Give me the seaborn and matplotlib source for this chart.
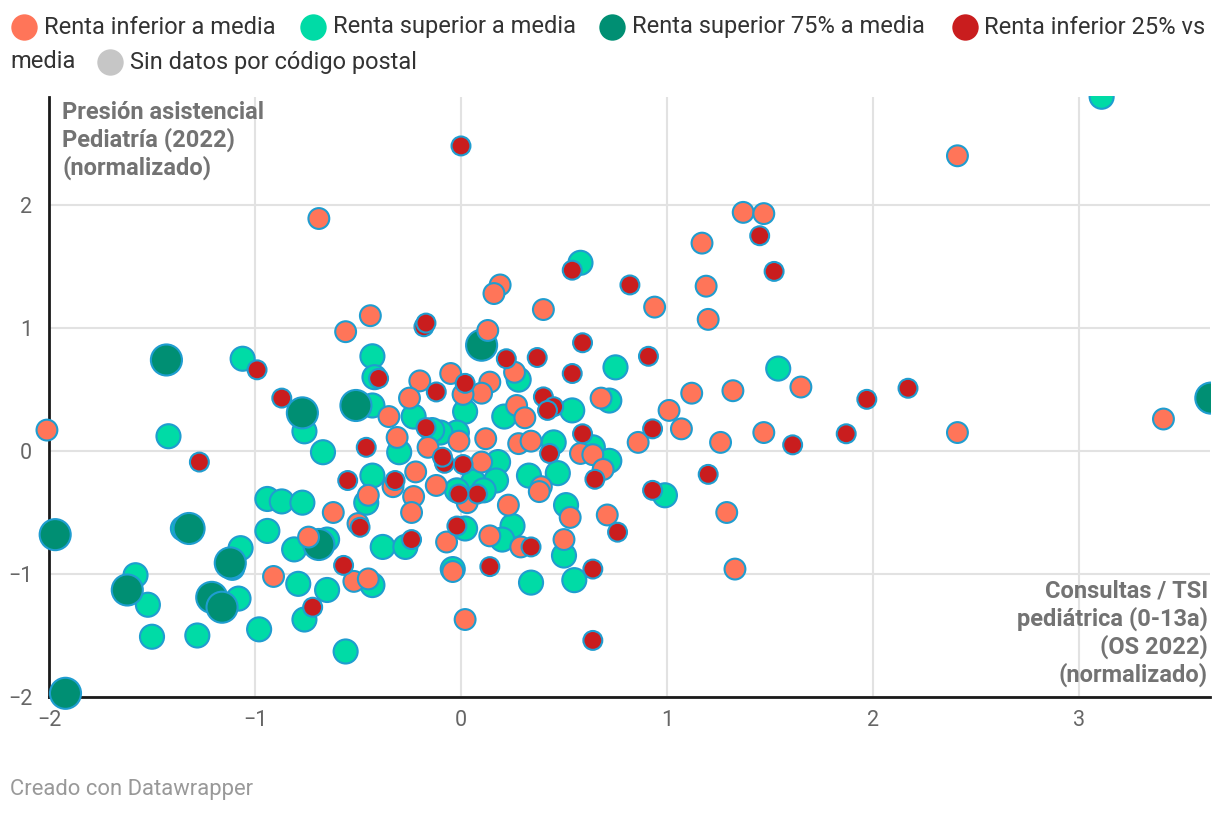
import pandas as pd
import matplotlib
matplotlib.use("Agg")
import matplotlib.pyplot as plt
import seaborn as sns
from matplotlib.lines import Line2D
from matplotlib.transforms import Bbox, TransformedBbox

# Valores (normalizados)
inferior_x = [-2.01, -0.69, 2.41, 1.37, 1.47, 1.17, 1.19, 1.20, 0.19, 0.16,
              0.40, 0.94, 0.13, -0.05, 0.14, 0.10, 0.01, 0.26, 0.27, 0.31,
              0.68, 1.12, 1.32, 1.65, 1.01, 1.07, 0.86, 1.26, 1.47, -0.01,
              0.12, 0.28, 0.34, 0.10, 0.58, 0.64, 0.69, 0.39, 2.41, 3.41,
              0.23, 0.53, 0.71, 1.29, 0.14, 0.29, 0.50, -0.07, -0.04, 1.33,
              0.02, 0.03, 0.38, -0.62, -0.45, -0.23, -0.24, -0.50, -0.74, -0.91,
              -0.52, -0.45, -0.44, -0.56, -0.20, -0.25, -0.35, -0.31, -0.16, -0.22,
              -0.12, -0.33]
inferior_y = [0.17, 1.89, 2.40, 1.94, 1.93, 1.69, 1.34, 1.07, 1.35, 1.28,
              1.15, 1.17, 0.98, 0.63, 0.56, 0.47, 0.46, 0.64, 0.37, 0.27,
              0.43, 0.47, 0.49, 0.52, 0.33, 0.18, 0.07, 0.07, 0.15, 0.08,
              0.10, 0.06, 0.08, -0.09, -0.02, -0.03, -0.15, -0.29, 0.15, 0.26,
              -0.44, -0.54, -0.52, -0.50, -0.69, -0.78, -0.72, -0.74, -0.98, -0.96,
              -1.37, -0.42, -0.33, -0.50, -0.36, -0.37, -0.50, -0.59, -0.70, -1.02,
              -1.06, -1.04, 1.10, 0.97, 0.57, 0.43, 0.28, 0.11, 0.03, -0.17,
              -0.28, -0.29]

inferior25_x = [0.00, 1.45, 1.52, 0.54, 0.82, 0.59, 0.91, 0.54, 0.37, 0.22,
                0.02, 0.40, 0.45, 0.42, 0.59, 0.93, 1.61, 0.43, 0.01, -0.08,
                0.65, 1.20, 0.93, 0.08, -0.01, 1.87, 1.97, 2.17, -0.02, 0.34,
                0.76, 0.14, 0.64, 0.64, -0.49, -0.24, -0.57, -0.72, -0.99, -0.87,
                -1.27, -0.46, -0.55, -0.32, -0.40, -0.17, -0.12, -0.09, -0.18, -0.17]
inferior25_y = [2.48, 1.75, 1.46, 1.47, 1.35, 0.88, 0.77, 0.63, 0.76, 0.75,
                0.55, 0.44, 0.36, 0.33, 0.14, 0.18, 0.05, -0.02, -0.11, -0.10,
                -0.23, -0.19, -0.32, -0.35, -0.35, 0.14, 0.42, 0.51, -0.61, -0.78,
                -0.66, -0.94, -0.96, -1.54, -0.62, -0.72, -0.93, -1.27, 0.66, 0.43,
                -0.09, 0.03, -0.24, -0.24, 0.59, 0.19, 0.48, -0.05, 1.01, 1.04]

superior_x = [3.11, 0.58, 0.75, 1.54, 0.28, 0.02, 0.21, 0.54, 0.72, 0.45,
              0.64, 0.72, 0.18, 0.17, 0.06, 0.11, 0.33, 0.47, -0.02, -0.02,
              -0.10, 0.99, 0.51, 0.25, 0.20, 0.02, 0.50, 0.34, 0.55, -0.04,
              -0.94, -0.87, -0.77, -0.94, -0.81, -0.65, -1.07, -1.35, -0.38, -0.27,
              -0.46, -1.58, -1.52, -1.50, -1.28, -1.08, -0.98, -0.79, -0.65, -0.76,
              -0.56, -0.43, -1.11, -1.06, -1.42, -0.76, -0.67, -0.43, -0.42, -0.43,
              -0.23, -0.14, -0.30, -0.43]
superior_y = [2.88, 1.53, 0.68, 0.67, 0.58, 0.32, 0.28, 0.33, 0.41, 0.07,
              0.03, -0.08, -0.09, -0.24, -0.25, -0.32, -0.20, -0.18, -0.32, 0.15,
              0.15, -0.36, -0.44, -0.61, -0.72, -0.63, -0.85, -1.07, -1.05, -0.96,
              -0.39, -0.41, -0.42, -0.65, -0.80, -0.72, -0.79, -0.63, -0.78, -0.78,
              -0.42, -1.01, -1.25, -1.51, -1.50, -1.20, -1.45, -1.08, -1.13, -1.37,
              -1.63, -1.09, -0.95, 0.75, 0.12, 0.16, -0.01, 0.77, 0.60, 0.37,
              0.28, 0.17, -0.01, -0.20]

superior75_x = [3.64, 0.10, -0.51, -0.77, -1.43, -1.97, -1.92, -1.32, -1.62, -1.21,
                -1.16, -1.12, -0.69]
superior75_y = [0.43, 0.86, 0.37, 0.31, 0.74, -0.68, -1.97, -0.63, -1.13, -1.19,
                -1.27, -0.91, -0.76]

grupos = ["Renta inferior a media", "Renta superior a media",
          "Renta superior 75% a media", "Renta inferior 25% vs media",
          "Sin datos por código postal"]
colores = ["#ff7559", "#00dba6", "#008f73", "#c91d1e", "#c6c6c6"]
x_ticks = [-2, -1, 0, 1, 2, 3]
y_ticks = [-2, -1, 0, 1, 2]

W, H = 1220, 816


def fx(px):
    return px / W


def fy(py):
    return 1 - py / H


def main():
    sns.set_style("white")
    plt.rcParams["font.family"] = ["Roboto", "DejaVu Sans"]

    # orden de dibujo: verdes debajo, rojos encima
    df = pd.concat([
        pd.DataFrame({"x": superior_x, "y": superior_y, "grupo": grupos[1]}),
        pd.DataFrame({"x": superior75_x, "y": superior75_y, "grupo": grupos[2]}),
        pd.DataFrame({"x": inferior_x, "y": inferior_y, "grupo": grupos[0]}),
        pd.DataFrame({"x": inferior25_x, "y": inferior25_y, "grupo": grupos[3]}),
    ], ignore_index=True)

    fig = plt.figure(figsize=(W / 100, H / 100), dpi=100)
    ax = fig.add_axes([fx(49), fy(697), fx(1210) - fx(49), fy(97) - fy(697)])

    paleta = dict(zip(grupos, colores))
    tamanos = {grupos[0]: 225, grupos[1]: 300, grupos[2]: 500, grupos[3]: 185}
    sns.scatterplot(data=df, x="x", y="y", hue="grupo", size="grupo",
                    palette=paleta, sizes=tamanos, edgecolor="#1f9dd0",
                    linewidth=1.5, alpha=1, legend=False, ax=ax,
                    clip_on=False, zorder=3)

    # recorte sólo arriba y a la derecha, como el original
    caja = TransformedBbox(Bbox([[0, 0], [fx(1211), fy(96)]]), fig.transFigure)
    for col in ax.collections:
        col.set_clip_box(caja)
        col.set_clip_on(True)

    ax.set_xlim(-2, 3.636)
    ax.set_ylim(-2, 2.878)
    ax.set_xticks(x_ticks)
    ax.set_yticks(y_ticks)
    ax.grid(True, color="#e2e2e2", linewidth=1.5, zorder=0)
    ax.set_axisbelow(True)
    ax.set_xlabel("")
    ax.set_ylabel("")
    for s in ["top", "right"]:
        ax.spines[s].set_visible(False)
    for s in ["left", "bottom"]:
        ax.spines[s].set_color("#1a1a1a")
        ax.spines[s].set_linewidth(2)
        ax.spines[s].set_zorder(2)
    ax.tick_params(axis="both", length=0, labelsize=15.5, labelcolor="#666666")
    ax.tick_params(axis="y", pad=12)
    ax.tick_params(axis="x", pad=9)

    # títulos de ejes dentro del área
    ax.text(fx(62), fy(101), "Presión asistencial\nPediatría (2022)\n(normalizado)",
            transform=fig.transFigure, ha="left", va="top", fontsize=17,
            fontweight="bold", color="#737373", linespacing=1.2, zorder=5)
    ax.text(fx(1208), fy(687), "Consultas / TSI\npediátrica (0-13a)\n(OS 2022)\n(normalizado)",
            transform=fig.transFigure, ha="right", va="bottom", multialignment="right",
            fontsize=17, fontweight="bold", color="#737373", linespacing=1.2, zorder=5)

    # leyenda superior
    items = [(24, 27, 44, grupos[0], colores[0]),
             (313, 27, 333, grupos[1], colores[1]),
             (612, 27, 632, grupos[2], colores[2]),
             (965, 27, 984, "Renta inferior 25% vs", colores[3]),
             (110, 62, 130, grupos[4], colores[4])]
    for cx, cy, tx, txt, col in items:
        fig.add_artist(Line2D([fx(cx)], [fy(cy)], marker="o", markersize=19,
                              color=col, markeredgewidth=0, linestyle="none",
                              transform=fig.transFigure))
        fig.text(fx(tx), fy(cy), txt, ha="left", va="center", fontsize=17,
                 color="#333333")
    fig.text(fx(10), fy(62), "media", ha="left", va="center", fontsize=17,
             color="#333333")

    fig.text(fx(10), fy(790), "Creado con Datawrapper", ha="left", va="center",
             fontsize=15.8, color="#999999")

    fig.savefig("out.png", dpi=100)
    plt.close(fig)


if __name__ == "__main__":
    main()
